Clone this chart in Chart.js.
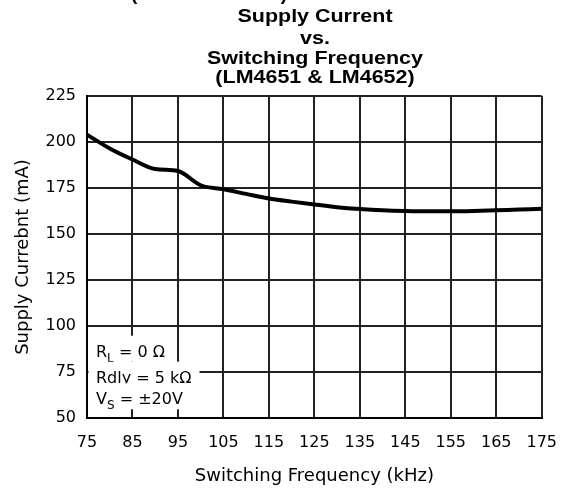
<!DOCTYPE html>
<html>
<head>
<meta charset="utf-8">
<script src="https://cdn.jsdelivr.net/npm/chart.js@4/dist/chart.umd.min.js"></script>
<style>
  body { margin: 0; background: #fff; }
  #wrap { width: 572px; height: 491px; }
</style>
</head>
<body>
<div id="wrap"><canvas id="chart" width="572" height="491"></canvas></div>
<script>
// Data
const freqKHz = [75, 80, 85, 90, 95, 100, 105, 110, 115, 120, 125, 130, 135, 140, 145, 150, 155, 160, 165, 170, 175];
const supplyMA = [204, 196.5, 190.5, 185.3, 184.2, 176.5, 174.3, 171.8, 169.3, 167.6, 166, 164.6, 163.6, 162.9, 162.5, 162.3, 162.3, 162.5, 162.9, 163.3, 163.7];
const titleLines = ['Supply Current', 'vs.', 'Switching Frequency', '(LM4651 & LM4652)'];
const noteLines = [['R', 'L', ' = 0 \u03A9'], ['Rdly = 5 k\u03A9', '', ''], ['V', 'S', ' = \u00B120V']];

const plainFont = 'DejaVu Sans';

// title block drawn on top of the plot
const titlePlugin = {
  id: 'titleBlock',
  afterDraw(chart) {
    const ctx = chart.ctx;
    ctx.save();
    ctx.fillStyle = '#000';
    ctx.font = 'bold 19px "Liberation Sans"';
    ctx.textAlign = 'center';
    ctx.textBaseline = 'alphabetic';
    const baselines = [21.7, 44.3, 64, 82.7];
    titleLines.forEach((t, i) => {
      ctx.save();
      ctx.translate(315, baselines[i]);
      ctx.scale(1.13, 1);
      ctx.fillText(t, 0, 0);
      ctx.restore();
    });
    // cut-off header line from the page above
    ctx.textAlign = 'left';
    ctx.fillText('(', 131, 0);
    ctx.textAlign = 'right';
    ctx.fillText(')', 287, 0);
    ctx.restore();
  }
};

// condition notes in the lower-left corner, with white backing
const notePlugin = {
  id: 'notes',
  afterDatasetsDraw(chart) {
    const ctx = chart.ctx;
    const area = chart.chartArea;
    const x0 = 96;
    const baselines = [356.7, 382.7, 404.3];
    ctx.save();
    ctx.textBaseline = 'alphabetic';
    ctx.textAlign = 'left';
    noteLines.forEach((parts, i) => {
      ctx.font = '16px "' + plainFont + '"';
      const w1 = ctx.measureText(parts[0]).width;
      ctx.font = '12px "' + plainFont + '"';
      const w2 = ctx.measureText(parts[1]).width;
      ctx.font = '16px "' + plainFont + '"';
      const w3 = ctx.measureText(parts[2]).width;
      const right = x0 + w1 + w2 + w3 + 8;
      ctx.fillStyle = '#fff';
      ctx.fillRect(area.left + 1.5, baselines[i] - 21, right - area.left - 1.5, 26);
      ctx.fillStyle = '#000';
      ctx.fillText(parts[0], x0, baselines[i]);
      ctx.font = '12px "' + plainFont + '"';
      ctx.fillText(parts[1], x0 + w1, baselines[i] + 5);
      ctx.font = '16px "' + plainFont + '"';
      ctx.fillText(parts[2], x0 + w1 + w2, baselines[i]);
    });
    ctx.restore();
  }
};

new Chart(document.getElementById('chart'), {
  type: 'line',
  data: {
    datasets: [{
      data: freqKHz.map((f, i) => ({ x: f, y: supplyMA[i] })),
      borderColor: '#000',
      borderWidth: 4,
      pointRadius: 0,
      cubicInterpolationMode: 'monotone',
      fill: false
    }]
  },
  options: {
    responsive: false,
    animation: false,
    layout: { padding: { left: 0, right: 24, top: 96, bottom: 0 } },
    plugins: { legend: { display: false }, tooltip: { enabled: false } },
    scales: {
      x: {
        type: 'linear',
        min: 75,
        max: 175,
        afterFit(scale) { scale.height = 73; },
        ticks: { stepSize: 10, color: '#000', padding: 15, font: { family: plainFont, size: 16 } },
        grid: { color: '#222', lineWidth: 2, drawTicks: false },
        border: { color: '#000', width: 2 },
        title: {
          display: true,
          text: 'Switching Frequency (kHz)',
          color: '#000',
          font: { family: plainFont, size: 18 },
          padding: { top: 0, bottom: 4 }
        }
      },
      y: {
        min: 50,
        max: 225,
        afterFit(scale) { scale.width = 87; },
        ticks: { stepSize: 25, color: '#000', padding: 11, font: { family: plainFont, size: 16 } },
        grid: { color: '#222', lineWidth: 2, drawTicks: false },
        border: { color: '#000', width: 2 },
        title: {
          display: true,
          text: 'Supply Currebnt (mA)',
          color: '#000',
          font: { family: plainFont, size: 18 },
          padding: { top: 13, bottom: 0 }
        }
      }
    }
  },
  plugins: [notePlugin, titlePlugin]
});
</script>
</body>
</html>
